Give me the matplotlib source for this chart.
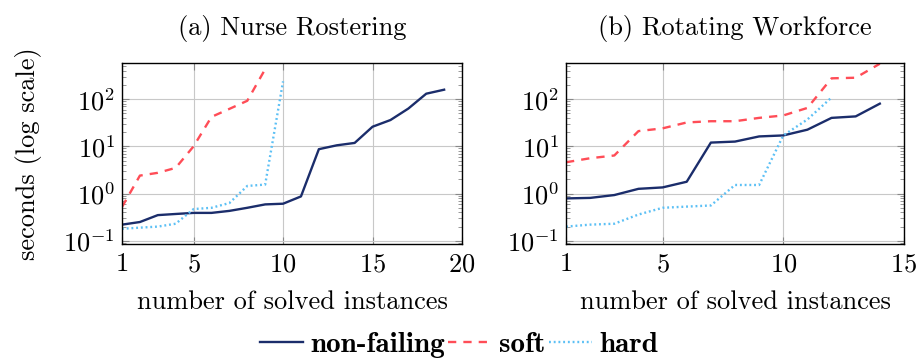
import numpy as np
import matplotlib
matplotlib.use("Agg")
import matplotlib.pyplot as plt
from matplotlib.ticker import FixedLocator, LogLocator, NullFormatter

plt.rcParams['font.family'] = 'serif'
plt.rcParams['font.serif'] = ['cmr10']
plt.rcParams['mathtext.fontset'] = 'cm'
plt.rcParams['axes.formatter.use_mathtext'] = True

# (a) Nurse Rostering
nr_nonfail = [0.22, 0.25, 0.35, 0.37, 0.39, 0.39, 0.43, 0.5, 0.59, 0.61,
              0.87, 8.7, 10.5, 11.8, 26, 36, 63, 130, 158]
nr_soft = [0.52, 2.4, 2.75, 3.5, 10, 42, 62, 92, 430]
nr_hard = [0.18, 0.19, 0.2, 0.23, 0.47, 0.5, 0.63, 1.45, 1.55, 237]

# (b) Rotating Workforce
rw_nonfail = [0.79, 0.81, 0.93, 1.26, 1.35, 1.78, 12, 12.6, 16.2, 17,
              22.5, 40, 43, 80]
rw_soft = [4.6, 5.6, 6.4, 21, 24, 32, 34, 34, 40, 45, 65, 275, 283, 560]
rw_hard = [0.2, 0.22, 0.23, 0.36, 0.5, 0.53, 0.56, 1.52, 1.52, 17, 37, 108]

c_nonfail = '#1b2d6b'
c_soft = '#ff4d57'
c_hard = '#5cc0f5'

fs = 19

fig = plt.figure(figsize=(9.18, 3.58), dpi=100)
ax1 = fig.add_axes([0.1329, 0.318, 0.3704, 0.506])
ax2 = fig.add_axes([0.6166, 0.318, 0.3681, 0.506])

panels = [
    (ax1, nr_nonfail, nr_soft, nr_hard, '(a) Nurse Rostering', 20, [1, 5, 10, 15, 20]),
    (ax2, rw_nonfail, rw_soft, rw_hard, '(b) Rotating Workforce', 15, [1, 5, 10, 15]),
]

for ax, nf, so, ha, title, xmax, xt in panels:
    ax.plot(np.arange(1, len(nf) + 1), nf, color=c_nonfail, lw=1.7, label='non-failing')
    ax.plot(np.arange(1, len(so) + 1), so, color=c_soft, lw=1.7, ls=(0, (3.5, 3)), label='soft')
    ax.plot(np.arange(1, len(ha) + 1), ha, color=c_hard, lw=1.7, ls=(0, (0.8, 1.2)), label='hard')
    ax.set_yscale('log')
    ax.set_xlim(1, xmax)
    ax.set_ylim(0.085, 580)
    ax.xaxis.set_major_locator(FixedLocator(xt))
    ax.yaxis.set_major_locator(LogLocator(base=10, numticks=10))
    ax.yaxis.set_minor_locator(LogLocator(base=10, subs=np.arange(2, 10), numticks=10))
    ax.yaxis.set_minor_formatter(NullFormatter())
    ax.grid(True, which='major', color='#c8c8c8', lw=0.8)
    ax.tick_params(which='both', direction='in', top=True, right=True,
                   color='#888888', labelsize=fs)
    ax.tick_params(axis='x', pad=6)
    ax.tick_params(axis='y', pad=5)
    ax.tick_params(which='major', length=5)
    ax.tick_params(which='minor', length=3)
    for sp in ax.spines.values():
        sp.set_linewidth(1.0)
    ax.set_title(title, fontsize=fs, pad=20)
    ax.set_xlabel('number of solved instances', fontsize=fs, labelpad=10)

ax1.set_ylabel('seconds (log scale)', fontsize=fs, labelpad=15)

handles, labels = ax1.get_legend_handles_labels()
fig.legend(handles, labels, loc='center', bbox_to_anchor=(0.5, 0.036), ncol=3,
           frameon=False, prop={'family': 'cmb10', 'size': 21},
           handlelength=1.5, handletextpad=0.25, columnspacing=0.1)

fig.savefig('out.png', dpi=100)
